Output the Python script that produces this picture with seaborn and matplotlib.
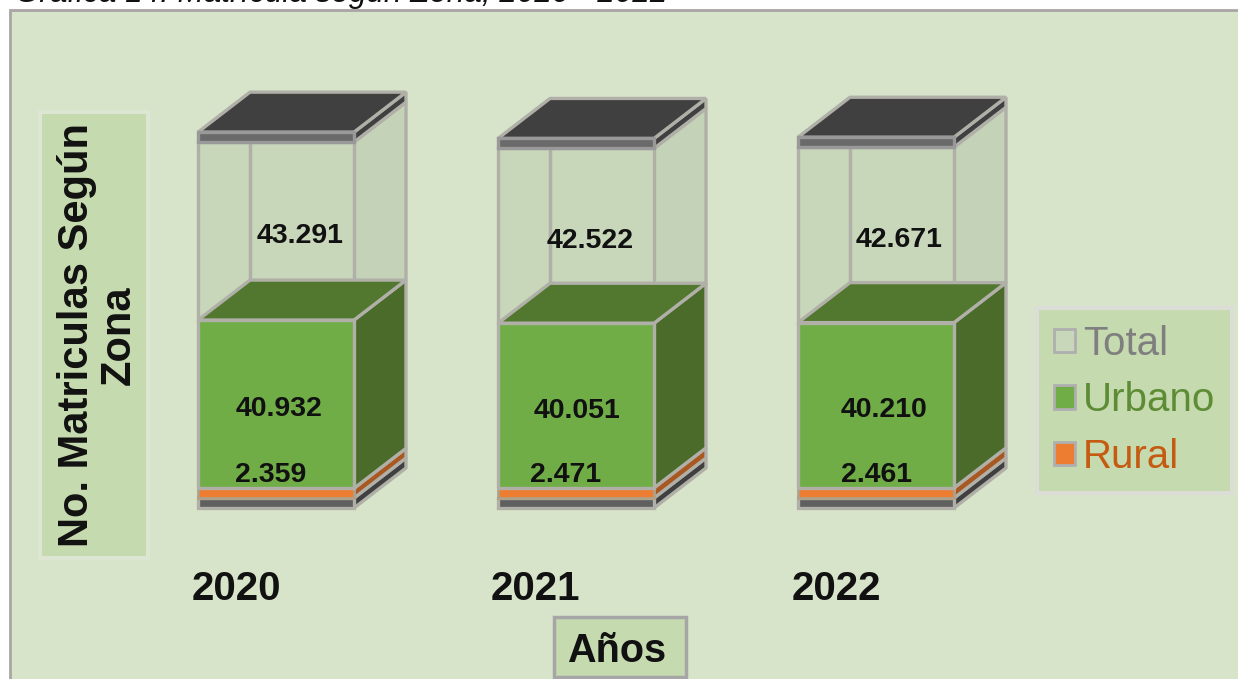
"""Matriculas por zona 2020-2022, stacked pseudo-3D columns."""
import matplotlib
matplotlib.use("Agg")
import matplotlib.pyplot as plt
from matplotlib.patches import Patch, Rectangle
import numpy as np
import seaborn as sns

years = ["2020", "2021", "2022"]
rural = [2359, 2471, 2461]
urbano = [40932, 40051, 40210]
total = [43291, 42522, 42671]
rural_txt = ["2.359", "2.471", "2.461"]
urbano_txt = ["40.932", "40.051", "40.210"]
total_txt = ["43.291", "42.522", "42.671"]

W, H = 1238, 679
PX_Y = 243.3      # values per pixel, vertical
PX_X = 1 / 300    # category units per pixel
ZERO_Y = 498      # pixel row of value 0
FIRST_X = 276     # pixel column of first bar centre
BAR_W = 156 * PX_X
DX, DY = 52 * PX_X, 40 * PX_Y
SLAB = 10 * PX_Y

EDGE = "#B0B0A8"
FONT = "Liberation Sans"

sns.set_theme(style="white")
plt.rcParams["font.family"] = [FONT, "DejaVu Sans"]

fig = plt.figure(figsize=(W / 100, H / 100), dpi=100, facecolor="white")
ax = fig.add_axes([0, 0, 1, 1])
ax.set_zorder(2)
ax.patch.set_visible(False)


def panel(x0, y0, x1, y1, face, edge, lw):
    fig.patches.append(Rectangle((x0 / W, 1 - y1 / H), (x1 - x0) / W, (y1 - y0) / H,
                                 transform=fig.transFigure, facecolor=face,
                                 edgecolor=edge, linewidth=lw, figure=fig))


def block(i, y0, y1, side, top=None, z=1.0):
    # right face and (optional) top face of one column section
    xr = i + BAR_W / 2
    xl = i - BAR_W / 2
    ax.fill([xr, xr + DX, xr + DX, xr], [y0, y0 + DY, y1 + DY, y1],
            facecolor=side, edgecolor=EDGE, linewidth=2.4, joinstyle="bevel", zorder=z)
    if top is not None:
        ax.fill([xl, xr, xr + DX, xl + DX], [y1, y1, y1 + DY, y1 + DY],
                facecolor=top, edgecolor=EDGE, linewidth=2.4, joinstyle="bevel", zorder=z + 0.1)


panel(10, 10, 1245, 690, "#D7E4CA", "#A9A5A5", 2)
panel(40, 112, 148, 558, "#C5DAAE", "#DDE6D3", 3)
panel(554, 617, 686, 677, "#C5DAAE", "#A6A6A6", 2.5)

rural = np.array(rural)
urbano = np.array(urbano)
total = np.array(total)
floor_h = [SLAB] * 3

# front faces
sns.barplot(x=years, y=floor_h, bottom=-SLAB, width=BAR_W, color="#5F5F5F", saturation=1,
            edgecolor=EDGE, linewidth=2.4, zorder=4, ax=ax)
sns.barplot(x=years, y=rural, width=BAR_W, color="#ED7D31", saturation=1,
            edgecolor="#B0A088", linewidth=2, zorder=4, ax=ax)
sns.barplot(x=years, y=urbano, bottom=rural, width=BAR_W, color="#70AD47", saturation=1,
            edgecolor=EDGE, linewidth=2.4, zorder=4, ax=ax)
sns.barplot(x=years, y=total, bottom=rural + urbano, width=BAR_W, color="#C8D6BA", saturation=1,
            edgecolor=EDGE, linewidth=2.4, zorder=2, ax=ax)
sns.barplot(x=years, y=floor_h, bottom=rural + urbano + total, width=BAR_W, color="#6A6A6A",
            saturation=1, edgecolor="#999999", linewidth=2.4, zorder=4, ax=ax)

for i in range(len(years)):
    r, u, t = rural[i], urbano[i], total[i]
    xb = i - BAR_W / 2 + DX
    block(i, -SLAB, 0, "#404040", z=3)
    block(i, 0, r, "#A85820", z=3)
    block(i, r, r + u, "#4A6B2A", "#52782F", z=3)
    # back edge of the empty upper section, seen through it
    ax.plot([xb, xb], [r + u + DY, r + u + t + DY], color=EDGE, linewidth=2.5, zorder=2.5)
    block(i, r + u, r + u + t, "#C4D3B8", z=1)
    block(i, r + u + t, r + u + t + SLAB, "#404040", "#404040", z=3)

ax.set_xlim(-FIRST_X * PX_X, (W - FIRST_X) * PX_X)
ax.set_ylim(-(H - ZERO_Y) * PX_Y, ZERO_Y * PX_Y)
ax.axis("off")

# value labels, nudged per column as in the source chart
lbl = dict(ha="center", va="center", fontsize=20.5, fontweight="bold", color="#111111", zorder=6)
total_nudge = [24, 14, 23]
urban_nudge = [3, 1, 8]
rural_nudge = [-5, -10, 1]
year_nudge = [-40, -41, -40]
for i in range(len(years)):
    r, u, t = rural[i], urbano[i], total[i]
    ax.text(i + total_nudge[i] * PX_X, r + u + t * 0.5 - 5 * PX_Y, total_txt[i], **lbl)
    ax.text(i + urban_nudge[i] * PX_X, r + u * 0.5 - 5 * PX_Y, urbano_txt[i], **lbl)
    ax.text(i + rural_nudge[i] * PX_X, r + 13 * PX_Y, rural_txt[i], **lbl)
    ax.text(i + year_nudge[i] * PX_X, -91 * PX_Y, years[i], ha="center", va="center",
            fontsize=29, fontweight="bold", color="#111111", zorder=6)

fig.text(98 / W, 1 - 335 / H, "No. Matriculas Según\nZona", rotation=90, ha="center", va="center",
         ma="center", fontsize=30, fontweight="bold", color="#111111", linespacing=1.08, zorder=3)
fig.text(617 / W, 1 - 651 / H, "Años", ha="center", va="center", fontsize=28.5,
         fontweight="bold", color="#111111", zorder=3)
fig.text(15 / W, 1 - 2 / H, "Gráfica 14. Matrícula según Zona, 2020 - 2022", ha="left",
         va="baseline", fontsize=22.6, style="italic", color="#111111", zorder=3)

handles = [Patch(facecolor="#C8D6BA", edgecolor="#AFAFAF", linewidth=2),
           Patch(facecolor="#70AD47", edgecolor="#AFAFAF", linewidth=2),
           Patch(facecolor="#ED7D31", edgecolor="#AFAFAF", linewidth=2)]
leg = fig.legend(handles, ["Total", "Urbano", "Rural"], loc="upper left",
                 bbox_to_anchor=(1037 / W, 1 - 308 / H), fontsize=29, frameon=True,
                 facecolor="#C5DAAE", edgecolor="#DDDDD8", framealpha=1, fancybox=False,
                 labelcolor=["#7F7F7F", "#5E8C35", "#C55A11"], handlelength=0.52, handleheight=0.52,
                 handletextpad=0.2, labelspacing=0.46, borderpad=0.42, borderaxespad=0)
leg.get_frame().set_linewidth(3)

fig.savefig("out.png", dpi=100)
